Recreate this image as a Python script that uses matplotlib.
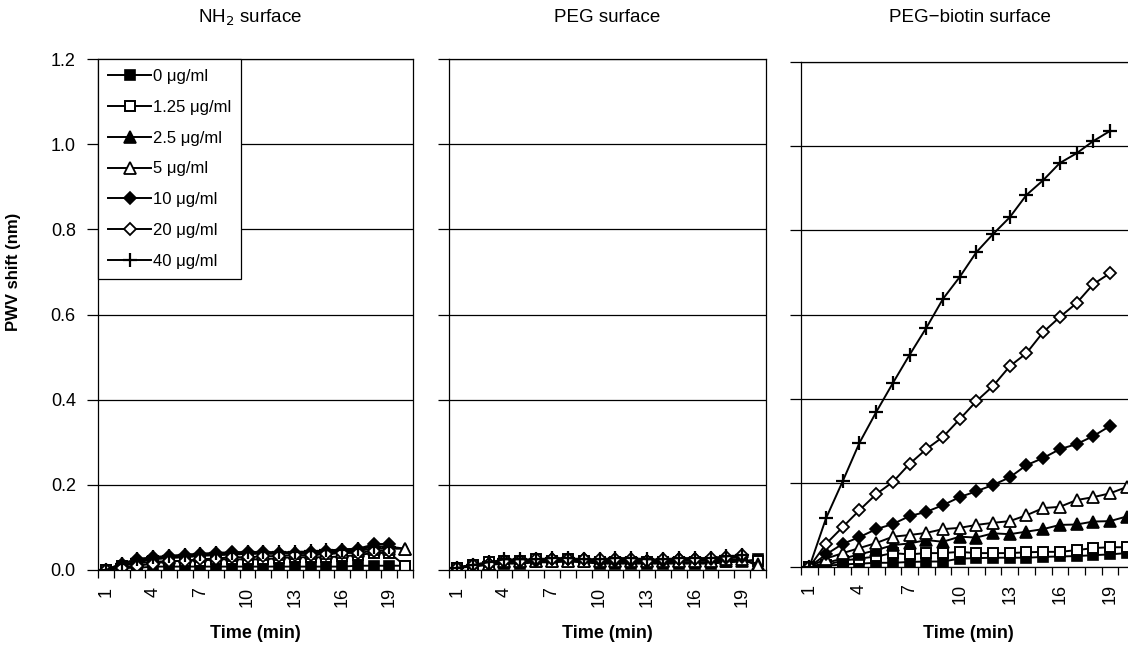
import matplotlib
matplotlib.use('Agg')
import matplotlib.pyplot as plt
import numpy as np

plt.rcParams['font.family'] = ['Liberation Sans', 'DejaVu Sans']

# time points (min)
t = np.arange(1, 21)
t19 = np.arange(1, 20)

labels = ['0 \u03bcg/ml', '1.25 \u03bcg/ml', '2.5 \u03bcg/ml', '5 \u03bcg/ml',
          '10 \u03bcg/ml', '20 \u03bcg/ml', '40 \u03bcg/ml']

# NH2 surface
nh2_0 = [0, 0.005, 0.005, 0.008, 0.008, 0.008, 0.008, 0.008, 0.008, 0.008,
         0.008, 0.008, 0.008, 0.008, 0.008, 0.008, 0.01, 0.01, 0.01, 0.01]
nh2_125 = [0, 0.01, 0.015, 0.02, 0.02, 0.022, 0.022, 0.025, 0.025, 0.025,
           0.025, 0.028, 0.03, 0.03, 0.03, 0.032, 0.035, 0.04, 0.04, 0.01]
nh2_25 = [0, 0.012, 0.02, 0.028, 0.03, 0.033, 0.035, 0.037, 0.038, 0.04,
          0.04, 0.04, 0.04, 0.042, 0.042, 0.045, 0.048, 0.055, 0.055, 0.05]
nh2_5 = [0, 0.01, 0.018, 0.025, 0.028, 0.03, 0.033, 0.035, 0.036, 0.038,
         0.038, 0.038, 0.04, 0.04, 0.04, 0.042, 0.045, 0.05, 0.05, 0.05]
nh2_10 = [0, 0.015, 0.025, 0.03, 0.032, 0.035, 0.037, 0.04, 0.042, 0.042,
          0.042, 0.04, 0.04, 0.042, 0.045, 0.048, 0.05, 0.06, 0.062]
nh2_20 = [0, 0.005, 0.01, 0.015, 0.02, 0.022, 0.025, 0.027, 0.03, 0.03,
          0.032, 0.033, 0.035, 0.035, 0.037, 0.04, 0.04, 0.045, 0.045]
nh2_40 = [0, 0.015, 0.025, 0.03, 0.033, 0.036, 0.038, 0.04, 0.04, 0.042,
          0.042, 0.042, 0.042, 0.044, 0.046, 0.048, 0.05, 0.055, 0.055]

# PEG surface
peg_0 = [0.005, 0.008, 0.012, 0.015, 0.015, 0.018, 0.018, 0.02, 0.018, 0.015,
         0.015, 0.015, 0.015, 0.015, 0.015, 0.015, 0.015, 0.018, 0.02, 0.025]
peg_125 = [0.005, 0.012, 0.018, 0.02, 0.02, 0.025, 0.02, 0.025, 0.02, 0.018,
           0.018, 0.018, 0.018, 0.018, 0.018, 0.018, 0.018, 0.02, 0.022, 0.022]
peg_25 = [0.005, 0.01, 0.015, 0.018, 0.02, 0.02, 0.022, 0.022, 0.022, 0.02,
          0.02, 0.02, 0.02, 0.02, 0.022, 0.022, 0.022, 0.022, 0.022, 0.015]
peg_5 = [0.005, 0.01, 0.015, 0.02, 0.02, 0.02, 0.022, 0.022, 0.022, 0.022,
         0.022, 0.022, 0.022, 0.022, 0.022, 0.022, 0.022, 0.025, 0.025, 0.01]
peg_10 = [0.005, 0.012, 0.015, 0.02, 0.022, 0.022, 0.025, 0.025, 0.025, 0.022,
          0.022, 0.022, 0.02, 0.022, 0.025, 0.025, 0.025, 0.028, 0.03]
peg_20 = [0.005, 0.012, 0.015, 0.022, 0.022, 0.025, 0.025, 0.025, 0.025, 0.025,
          0.025, 0.025, 0.022, 0.025, 0.025, 0.025, 0.028, 0.03, 0.035]
peg_40 = [0.005, 0.012, 0.018, 0.025, 0.025, 0.025, 0.028, 0.028, 0.025, 0.025,
          0.028, 0.028, 0.025, 0.025, 0.028, 0.028, 0.028, 0.032, 0.035]

# PEG-biotin surface
bio_0 = [0, 0.003, 0.006, 0.008, 0.01, 0.01, 0.012, 0.013, 0.013, 0.02,
         0.021, 0.022, 0.022, 0.022, 0.024, 0.025, 0.026, 0.028, 0.03, 0.033]
bio_125 = [0, 0.005, 0.015, 0.02, 0.025, 0.033, 0.03, 0.033, 0.033, 0.036,
           0.033, 0.033, 0.033, 0.035, 0.036, 0.036, 0.04, 0.045, 0.047, 0.047]
bio_25 = [0, 0.01, 0.02, 0.03, 0.04, 0.052, 0.056, 0.064, 0.06, 0.072,
          0.07, 0.08, 0.078, 0.084, 0.09, 0.1, 0.101, 0.108, 0.109, 0.12]
bio_5 = [0, 0.02, 0.033, 0.045, 0.057, 0.072, 0.076, 0.081, 0.09, 0.093,
         0.1, 0.105, 0.109, 0.123, 0.14, 0.143, 0.159, 0.166, 0.175, 0.19]
bio_10 = [0, 0.03, 0.055, 0.071, 0.09, 0.102, 0.121, 0.131, 0.147, 0.166,
          0.18, 0.195, 0.213, 0.242, 0.259, 0.28, 0.292, 0.311, 0.335]
bio_20 = [0, 0.055, 0.095, 0.135, 0.173, 0.202, 0.245, 0.28, 0.309, 0.351,
          0.394, 0.43, 0.477, 0.508, 0.558, 0.594, 0.627, 0.672, 0.698]
bio_40 = [0, 0.116, 0.204, 0.295, 0.368, 0.437, 0.504, 0.568, 0.637, 0.689,
          0.748, 0.791, 0.831, 0.884, 0.919, 0.96, 0.983, 1.012, 1.036]

panels = [
    ('NH$_2$ surface', [nh2_0, nh2_125, nh2_25, nh2_5, nh2_10, nh2_20, nh2_40]),
    ('PEG surface', [peg_0, peg_125, peg_25, peg_5, peg_10, peg_20, peg_40]),
    ('PEG\u2212biotin surface', [bio_0, bio_125, bio_25, bio_5, bio_10, bio_20, bio_40]),
]

# marker style per concentration
styles = [
    dict(marker='s', mfc='black', ms=7.5, mew=1.2),
    dict(marker='s', mfc='white', ms=7.5, mew=1.4),
    dict(marker='^', mfc='black', ms=8, mew=1.2),
    dict(marker='^', mfc='white', ms=8, mew=1.3),
    dict(marker='D', mfc='black', ms=6.5, mew=1.2),
    dict(marker='D', mfc='white', ms=6.5, mew=1.3),
    dict(marker='+', mfc='black', ms=10, mew=1.6),
]

W, H = 1128, 649
fig = plt.figure(figsize=(W / 100, H / 100), dpi=100)

# axes boxes in pixels: left, top, right, bottom
boxes = [(98, 59, 413, 570), (449, 59, 766, 570), (801, 62, 1135, 567)]
title_x = [250, 607, 970]

for k, (title, series) in enumerate(panels):
    l, tp, r, b = boxes[k]
    ax = fig.add_axes([l / W, (H - b) / H, (r - l) / W, (b - tp) / H])
    for y, lab, st in zip(series, labels, styles):
        x = t if len(y) == 20 else t19
        ax.plot(x, y, color='black', lw=1.4, mec='black', label=lab, **st)
    ax.set_xlim(0.5, 20.5)
    ax.set_ylim(0, 1.2)
    ax.set_yticks(np.arange(0, 1.21, 0.2))
    ax.yaxis.grid(True, color='black', lw=0.9)
    ax.set_axisbelow(True)
    ax.set_xticks(np.arange(1, 21, 3))
    ax.set_xticks(np.arange(0.5, 20.6, 1), minor=True)
    ax.set_xticklabels([str(v) for v in range(1, 21, 3)], rotation=90,
                       fontsize=13)
    ax.tick_params(axis='x', which='major', length=0, pad=12)
    ax.tick_params(axis='x', which='minor', length=6, width=0.9,
                   direction='out')
    ax.tick_params(axis='y', length=8, width=0.9, direction='out',
                   labelsize=13, pad=8)
    if k == 0:
        ax.set_yticklabels(['0.0', '0.2', '0.4', '0.6', '0.8', '1.0', '1.2'])
        leg = ax.legend(loc='upper left', bbox_to_anchor=(0, 1),
                        borderaxespad=0, fontsize=12, fancybox=False,
                        framealpha=1, edgecolor='black', handlelength=2.6,
                        handletextpad=0.1, labelspacing=0.95,
                        borderpad=0.6)
        leg.get_frame().set_linewidth(0.9)
    else:
        ax.set_yticklabels([])
    for sp in ax.spines.values():
        sp.set_linewidth(0.9)
    fig.text(title_x[k] / W, 1 - 18 / H, title, ha='center', va='center',
             fontsize=13.5)
    fig.text((l + r) / 2 / W, 1 - 633 / H, 'Time (min)', ha='center',
             va='center', fontsize=13, fontweight='bold')

fig.text(14 / W, 1 - 272 / H, 'PWV shift (nm)', rotation=90, ha='center',
         va='center', fontsize=12, fontweight='bold')

plt.savefig('out.png', dpi=100)
